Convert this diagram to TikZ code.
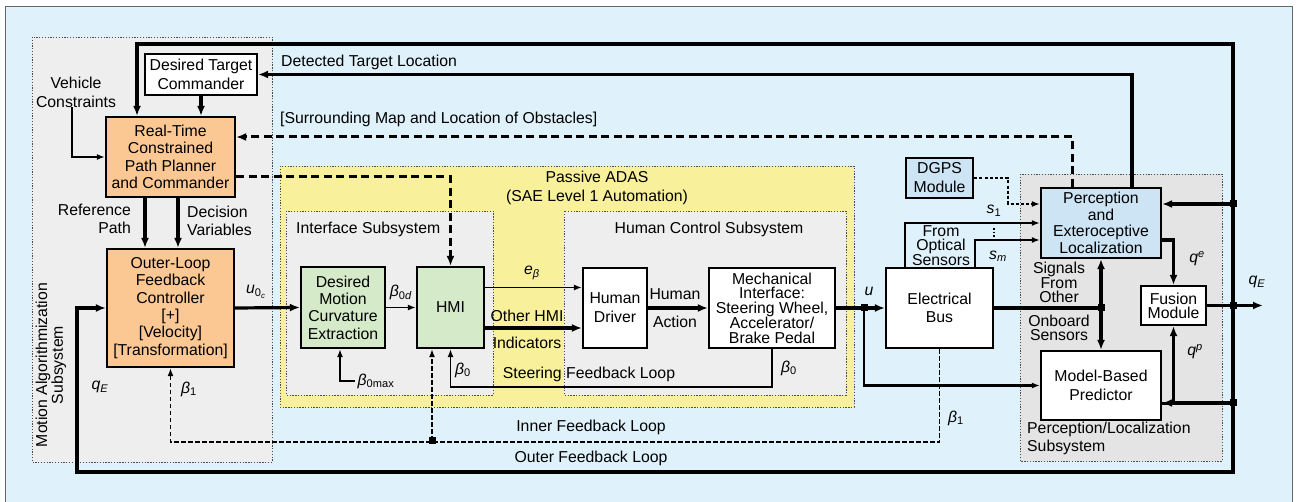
\documentclass[tikz,border=0pt]{standalone}
\usepackage{fontspec}
\setmainfont{Liberation Sans}
\usetikzlibrary{arrows.meta}

\definecolor{bgblue}{HTML}{DFF2FB}
\definecolor{subgray}{HTML}{EEEEEE}
\definecolor{pergray}{HTML}{E4E4E4}
\definecolor{adasyel}{HTML}{F8F09B}
\definecolor{orng}{HTML}{FBC894}
\definecolor{grn}{HTML}{D4EAC8}
\definecolor{lblue}{HTML}{CCE4F3}

\newcommand{\fs}[1]{\fontsize{15.8}{#1}\selectfont}
% sans italic symbols
\newcommand{\vsub}[2]{\textit{#1}\textsubscript{#2}}
\newcommand{\vsup}[2]{\textit{#1}\textsuperscript{#2}}

\begin{document}
\begin{tikzpicture}[x=1pt, y=-1pt, font=\fs{17.3},
    box/.style={draw, line width=2.2pt, fill=white, align=center, inner sep=1pt},
    sub/.style={draw=black!70, line width=0.9pt, dash pattern=on 1.3pt off 1.5pt},
    lbl/.style={inner sep=0pt, align=center},
    thk/.style={line width=3.2pt},
    med/.style={line width=2.2pt},
    thn/.style={line width=1.6pt},
    dsh/.style={line width=3pt, dash pattern=on 8pt off 4.5pt},
    dsht/.style={line width=1.8pt, dash pattern=on 4.5pt off 2.5pt},
    dtd/.style={line width=2pt, dash pattern=on 3pt off 2.2pt},
    arr/.style={-{Latex[length=10pt,width=8pt]}},
    arrs/.style={-{Latex[length=8pt,width=6pt]}},
    dot/.style={fill=black}]

    \useasboundingbox (0,0) rectangle (1299,502);
    % Frame
    \fill[bgblue] (5,6) rectangle (1292,502);
    \draw[black!60, line width=0.8pt] (5,502) -- (5,6) -- (1292,6) -- (1292,502);

    % Subsystems
    \filldraw[sub, fill=subgray] (32,37) rectangle (272,462);
    \filldraw[sub, fill=adasyel] (280,166) rectangle (854,407);
    \filldraw[sub, fill=subgray] (286,211) rectangle (493,395);
    \filldraw[sub, fill=subgray] (564,211) rectangle (846,395);
    \filldraw[sub, fill=pergray] (1020,174) rectangle (1222,461);

    \node[lbl, rotate=90, font=\fs{12.5}] (malbl) at (51,365) {Motion Algorithmization\\Subsystem};
    \node[lbl, font=\fs{19}] (adaslbl) at (597,187.5) {Passive ADAS\\(SAE Level 1 Automation)};
    \node[lbl, anchor=west] (iflbl) at (296,229) {Interface Subsystem};
    \node[lbl] (hclbl) at (709,229) {Human Control Subsystem};
    \node[lbl, anchor=west, align=left] (pllbl) at (1027,438.5) {Perception/Localization\\Subsystem};

    % Blocks
    \node[box, minimum width=112pt, minimum height=41pt, font=\fs{19.5}] (dtc) at (201,74.5) {Desired Target\\Commander};
    \node[box, fill=orng, minimum width=129pt, minimum height=80pt] (rtp) at (170.5,157) {Real-Time\\Constrained\\Path Planner\\and Commander};
    \node[box, fill=orng, minimum width=127pt, minimum height=118pt] (olc) at (170.5,308) {Outer-Loop\\Feedback\\Controller\\{[+]}\\{[Velocity]}\\{[Transformation]}};
    \node[box, fill=grn, minimum width=84pt, minimum height=81pt] (dmce) at (343,307.5) {Desired\\Motion\\Curvature\\Extraction};
    \node[box, fill=grn, minimum width=67pt, minimum height=81pt] (hmi) at (450.5,307.5) {HMI};
    \node[box, minimum width=64pt, minimum height=80pt, font=\fs{19}] (hd) at (615,308) {Human\\Driver};
    \node[box, minimum width=126pt, minimum height=80pt, font=\fs{14.5}] (mi) at (772,308) {Mechanical\\Interface:\\Steering Wheel,\\Accelerator/\\Brake Pedal};
    \node[box, minimum width=107pt, minimum height=80pt, font=\fs{18}] (eb) at (939.5,308) {Electrical\\Bus};
    \node[box, fill=lblue, minimum width=67pt, minimum height=40pt, font=\fs{19}] (dgps) at (939.5,178) {DGPS\\Module};
    \node[box, fill=lblue, minimum width=120pt, minimum height=70pt, font=\fs{16.7}] (pel) at (1101,223) {Perception\\and\\Exteroceptive\\Localization};
    \node[box, minimum width=120pt, minimum height=69pt, font=\fs{19}] (mbp) at (1101,385.5) {Model-Based\\Predictor};
    \node[box, minimum width=65pt, minimum height=39pt, font=\fs{14}] (fus) at (1173.5,305.5) {Fusion\\Module};

    % Junctions
    \coordinate (ctop) at (1233,44);
    \coordinate (cbot) at (1233,472);
    \coordinate (cleft) at (77,472);
    \coordinate (jpel) at (1233,204);
    \coordinate (jq) at (1233,305.5);
    \coordinate (jmbp) at (1233,403);
    \coordinate (qEout) at (1263,305.5);
    \coordinate (ju) at (864,308);
    \coordinate (jsig) at (1101,308);
    \coordinate (jin) at (432,441);

    % Outer feedback loop
    \draw[thk, arr] (fus.east) -- (qEout);
    \draw[thk, arr] (jq) -- (ctop) -| ([xshift=-33.5pt]rtp.north);
    \draw[thk, arr] (jq) -- (cbot) -- (cleft) |- (olc.west);
    \draw[thk, arr] (jpel) -- ([yshift=19pt]pel.east);
    \draw[thk, arr] (jmbp) -- ([yshift=-17.5pt]mbp.east);

    % Target and map
    \draw[thk, arr] ([xshift=31pt]pel.north) |- (dtc.east);
    \draw[dsh, arr] ([xshift=-29pt]pel.north) |- ([yshift=20pt]rtp.east);
    \draw[dsh, arr] ([yshift=-20pt]rtp.east) -| (hmi.north);
    \draw[thk, arr] (dtc.south) -- (dtc.south |- rtp.north);

    % Planner inputs and outputs
    \node[lbl, font=\fs{19}] (vc) at (76,92) {Vehicle\\Constraints};
    \draw[thn, arrs] ([xshift=-4pt]vc.south) |- (rtp.west);
    \draw[thk, arr] ([xshift=-25.5pt]rtp.south) -- ([xshift=-25.5pt]olc.north);
    \draw[thk, arr] ([xshift=7.5pt]rtp.south) -- ([xshift=7.5pt]olc.north);
    \node[lbl, anchor=east, align=right] (rplbl) at (131,219) {Reference\\Path};
    \node[lbl, anchor=west, align=left] (dvlbl) at (187,221) {Decision\\Variables};

    % Forward path
    \draw[thk, arr] (olc.east) -- (dmce.west);
    \node[lbl] (u0c) at (256,292) {\textit{u}\textsubscript{0\textsubscript{\textit{c}}}};
    \draw[thn, arrs] (dmce.east) -- (hmi.west);
    \node[lbl] (b0d) at (401,292) {\vsub{β}{0\textit{d}}};
    \node[lbl] (bmax) at (376,381) {\vsub{β}{0max}};
    \draw[thn, arrs] ([xshift=-3pt]bmax.west) -| ([xshift=-3pt]dmce.south);
    \draw[thn, arrs] ([yshift=20pt]hmi.east) -- ([yshift=20pt]hmi.east -| hd.west);
    \node[lbl] (eb_lbl) at (532,273) {\vsub{e}{\textit{β}}};
    \draw[thk, arr] ([yshift=-20.5pt]hmi.east) -- ([yshift=-20.5pt]hmi.east -| hd.west);
    \node[lbl] (ohlbl) at (527,316) {Other HMI};
    \node[lbl] (indlbl) at (527,343) {Indicators};
    \draw[thk, arr] (hd.east) -- (mi.west);
    \node[lbl, font=\fs{28}] (halbl) at (675,308) {Human\\Action};

    % Steering feedback loop
    \draw[thn, arrs] (mi.south) -- ++(0,38) -| (hmi.south);
    \node[lbl] (b0a) at (463,370) {\vsub{β}{0}};
    \node[lbl] (b0b) at (789,368) {\vsub{β}{0}};
    \node[lbl] (sfl) at (589,374) {Steering Feedback Loop};

    % Bus and sensors
    \draw[thk] (mi.east) -- (ju);
    \draw[thk, arr] (ju) -- (eb.west);
    \draw[med, arrs] (ju) |- (mbp.west);
    \node[lbl] (ulbl) at (869,291) {\textit{u}};
    \draw[thk] (eb.east) -- (jsig);
    \draw[thk, {Latex[length=10pt,width=8pt]}-{Latex[length=10pt,width=8pt]}] (pel.south) -- (mbp.north);
    \node[lbl, font=\fs{13.8}] (sglbl) at (1059,282) {Signals\\From\\Other};
    \node[lbl, font=\fs{13.8}] (oblbl) at (1059,327.5) {Onboard\\Sensors};
    \draw[thn, arrs] ([xshift=-34.5pt]eb.north) |- (pel.west);
    \draw[thn, arrs] ([xshift=35.5pt]eb.north) |- ([yshift=-17pt]pel.west);
    \node[lbl, font=\fs{13.8}] (oslbl) at (941,246) {From\\Optical\\Sensors};
    \node[lbl] (s1lbl) at (994,211) {\vsub{s}{1}};
    \node[lbl] (smlbl) at (998,256) {\vsub{s}{\textit{m}}};
    \draw[thn, dotted] (994,228) -- (994,239);
    \draw[dtd, arrs] (dgps.east) -- ++(34,0) |- ([yshift=19pt]pel.west);
    \draw[thk, arr] ([yshift=-17pt]pel.east) -| (fus.north);
    \draw[thk, arr] ([yshift=-18pt]mbp.east) -| (fus.south);
    \node[lbl] (qelbl) at (1197,259) {\vsup{q}{\textit{e}}};
    \node[lbl] (qplbl) at (1195,352) {\vsup{q}{\textit{p}}};
    \node[lbl] (qElbl) at (1257,282) {\vsub{q}{\textit{E}}};
    \node[lbl] (qElbl2) at (100,387) {\vsub{q}{\textit{E}}};

    % Inner feedback loop
    \draw[dsht, arrs] (eb.south) -- ++(0,93) -| (olc.south);
    \draw[dsht, arrs] (jin) -- (jin |- hmi.south);
    \node[lbl] (b1a) at (189,389) {\vsub{β}{1}};
    \node[lbl] (b1b) at (956,418) {\vsub{β}{1}};
    \node[lbl] (ifl) at (591,427) {Inner Feedback Loop};
    \node[lbl] (ofl) at (591,458) {Outer Feedback Loop};

    % Dots
    \foreach \j in {jpel,jq,jmbp,ju,jsig,jin}
        \fill[dot] (\j) +(-3.5pt,-3.5pt) rectangle +(3.5pt,3.5pt);

    \node[lbl, anchor=west] (dtllbl) at (281,62) {Detected Target Location};
    \node[lbl, anchor=west] (smlbl2) at (280,119) {[Surrounding Map and Location of Obstacles]};
\end{tikzpicture}
\end{document}
